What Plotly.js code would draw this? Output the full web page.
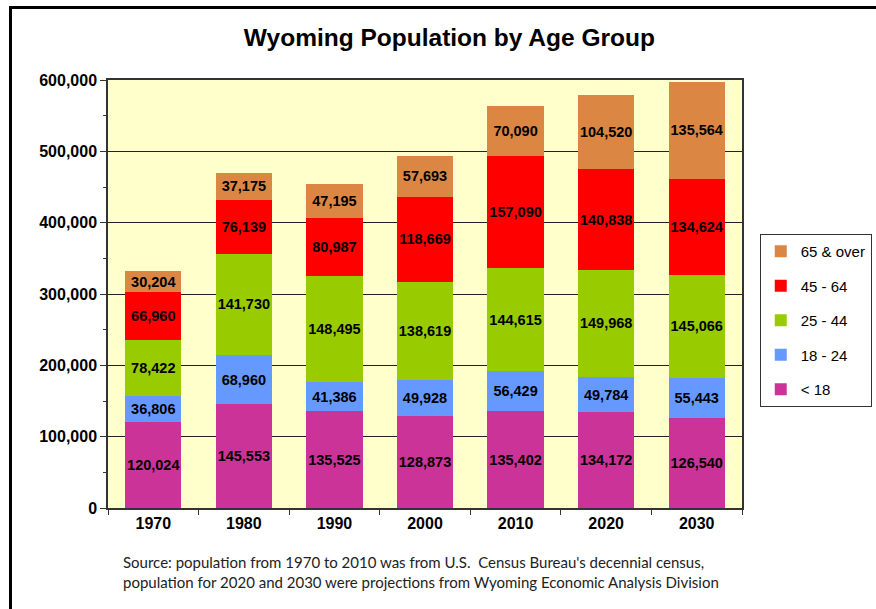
<!DOCTYPE html>
<html>
<head>
<meta charset="utf-8">
<script src="https://cdn.plot.ly/plotly-3.0.1.min.js"></script>
<style>
  body { margin: 0; background: #fff; }
  #plot1 { position: absolute; left: 0; top: 0; width: 876px; height: 609px; }
  #frame { position: absolute; left: 9px; top: 6px; width: 900px; height: 700px;
    border-left: 3px solid #000; border-top: 3px solid #000; pointer-events: none; }
</style>
</head>
<body>
<div id="plot1"></div>
<div id="frame"></div>
<script>
// input data
var years = ['1970', '1980', '1990', '2000', '2010', '2020', '2030'];
var under18 = [120024, 145553, 135525, 128873, 135402, 134172, 126540];
var age18to24 = [36806, 68960, 41386, 49928, 56429, 49784, 55443];
var age25to44 = [78422, 141730, 148495, 138619, 144615, 149968, 145066];
var age45to64 = [66960, 76139, 80987, 118669, 157090, 140838, 134624];
var age65over = [30204, 37175, 47195, 57693, 70090, 104520, 135564];

var seriesNames = ['< 18', '18 - 24', '25 - 44', '45 - 64', '65 & over'];
var seriesColors = ['#CC3399', '#6699FF', '#99CC00', '#FF0000', '#DB8642'];

function draw() {
  try {
    var values = [under18, age18to24, age25to44, age45to64, age65over];
    var data = values.map(function (v, i) {
      return {
        x: years,
        y: v,
        name: seriesNames[i],
        legendgroup: 'g' + i,
        legendrank: 100 - i,
        type: 'bar',
        marker: { color: seriesColors[i], line: { width: 0 } },
        texttemplate: '%{y:,}',
        textposition: 'inside',
        insidetextanchor: 'middle',
        textangle: 0,
        insidetextfont: { family: 'Arial, Liberation Sans', size: 14.5, color: '#000', weight: 'bold' },
        hoverinfo: 'skip'
      };
    });

    var layout = {
      barmode: 'stack',
      bargap: 0.38,
      paper_bgcolor: '#fff',
      plot_bgcolor: '#FFFFCC',
      margin: { l: 108, r: 134, t: 80, b: 101, autoexpand: false },
      showlegend: true,
      uniformtext: { mode: 'show', minsize: 14.5 },
      title: {
        text: '<b>Wyoming Population by Age Group</b>',
        font: { family: 'Arial, Liberation Sans', size: 24.5, color: '#000' },
        xref: 'container', x: 0.513, xanchor: 'center',
        yref: 'container', y: 0.939, yanchor: 'middle'
      },
      xaxis: {
        type: 'category',
        showline: true, linecolor: '#333', linewidth: 1.5, mirror: true,
        ticks: 'outside', tickson: 'boundaries', ticklen: 5, tickcolor: '#333',
        tickfont: { family: 'Arial, Liberation Sans', size: 16, color: '#000', weight: 'bold' },
        showgrid: false
      },
      yaxis: {
        range: [0, 600000],
        dtick: 100000,
        tickformat: ',',
        showline: true, linecolor: '#333', linewidth: 1.5, mirror: true,
        ticks: 'outside', ticklen: 6, tickcolor: '#333',
        minor: { dtick: 50000, ticks: 'outside', ticklen: 3, tickcolor: '#333', showgrid: false },
        showgrid: true, gridcolor: '#222', gridwidth: 1,
        zeroline: false,
        tickfont: { family: 'Arial, Liberation Sans', size: 16, color: '#000', weight: 'bold' }
      },
      legend: {
        x: 1.028, xanchor: 'left',
        y: 0.64, yanchor: 'top',
        traceorder: 'grouped',
        tracegroupgap: 12,
        itemwidth: 30,
        bgcolor: '#fff', bordercolor: '#333', borderwidth: 1,
        font: { family: 'Arial, Liberation Sans', size: 15, color: '#000' }
      },
      annotations: [{
        xref: 'paper', yref: 'paper',
        x: 0.02, xanchor: 'left',
        y: -0.1, yanchor: 'top',
        align: 'left',
        showarrow: false,
        text: "Source: population from 1970 to 2010 was from U.S.  Census Bureau's decennial census,<br>population for 2020 and 2030 were projections from Wyoming Economic Analysis Division",
        font: { family: 'Lato, Open Sans', size: 15, color: '#222' }
      }]
    };

    Plotly.newPlot('plot1', data, layout, { displayModeBar: false });
  }
  catch (err) {
    console.error(err);
  }
}
draw();
</script>
</body>
</html>
